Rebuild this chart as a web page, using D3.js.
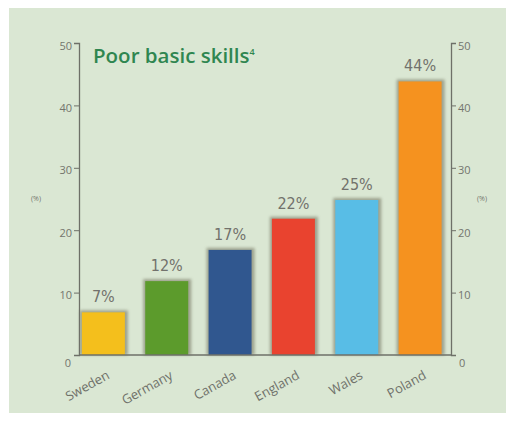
<!DOCTYPE html>
<html>
<head>
<meta charset="utf-8">
<script src="https://cdn.jsdelivr.net/npm/d3@7"></script>
<style>
  body { margin: 0; background: #ffffff; }
  svg { display: block; }
</style>
</head>
<body>
<div id="chart"></div>
<script>
// chart values
const countries = ["Sweden", "Germany", "Canada", "England", "Wales", "Poland"];
const shares = [7, 12, 17, 22, 25, 44];
const barColors = ["#f4bf1c", "#5c9b2c", "#30578f", "#e9432f", "#58bde6", "#f5921f"];
const yTicks = [0, 10, 20, 30, 40, 50];

const width = 506, height = 421;
const margin = {left: 79, right: 55, top: 43, bottom: 66};

const svg = d3.select('#chart')
    .append('svg')
    .attr('width', width)
    .attr('height', height);

// paper background
svg.append('rect')
    .attr('x', 9).attr('y', 8)
    .attr('width', width - 9).attr('height', 405)
    .attr('fill', '#dae7d3');

const x = d3.scaleBand()
    .domain(countries)
    .range([margin.left, 444.5])
    .paddingInner(0.29)
    .paddingOuter(0.03);

const y = d3.scaleLinear()
    .domain([0, 50])
    .range([height - margin.bottom, margin.top]);

const defs = svg.append('defs');
defs.append('filter')
    .attr('id', 'soft')
    .attr('x', '-20%').attr('y', '-20%')
    .attr('width', '140%').attr('height', '140%')
    .append('feGaussianBlur')
    .attr('stdDeviation', 1.6);

// shadow under each bar
svg.selectAll('rect.shadow')
    .data(shares).enter()
    .append('rect')
    .attr('class', 'shadow')
    .attr('x', (d, i) => x(countries[i]) - 1)
    .attr('y', d => y(d) - 1)
    .attr('width', x.bandwidth() + 3)
    .attr('height', d => y(0) - y(d) + 1)
    .attr('fill', '#6b6a55')
    .attr('opacity', 0.55)
    .attr('filter', 'url(#soft)');

svg.selectAll('rect.bar')
    .data(shares).enter()
    .append('rect')
    .attr('class', 'bar')
    .attr('x', (d, i) => x(countries[i]) + 1)
    .attr('y', d => y(d) + 1)
    .attr('width', x.bandwidth() - 2)
    .attr('height', d => y(0) - y(d) - 1)
    .attr('fill', (d, i) => barColors[i]);

// value labels
svg.selectAll('text.val')
    .data(shares).enter()
    .append('text')
    .attr('class', 'val')
    .attr('x', (d, i) => x(countries[i]) + x.bandwidth() / 2)
    .attr('y', d => y(d) - 9)
    .attr('text-anchor', 'middle')
    .style('font-family', '"Liberation Sans Narrow", "DejaVu Sans Condensed", sans-serif')
    .style('font-size', '16px')
    .style('fill', '#72726c')
    .text(d => d + '%');

// axes
const axisColor = '#6e7068';
const leftAxis = svg.append('g')
    .attr('transform', 'translate(' + margin.left + ',0)')
    .call(d3.axisLeft(y).tickValues(yTicks).tickSize(5).tickPadding(2));
const rightAxis = svg.append('g')
    .attr('transform', 'translate(' + (width - margin.right) + ',0)')
    .call(d3.axisRight(y).tickValues(yTicks).tickSize(5).tickPadding(2));

[leftAxis, rightAxis].forEach(function(g) {
    g.select('.domain').attr('stroke', axisColor).attr('stroke-width', 1.3);
    g.selectAll('.tick line').attr('stroke', axisColor).attr('stroke-width', 1);
    g.selectAll('.tick text')
        .attr('dy', '0.55em')
        .style('font-family', '"Open Sans", sans-serif')
        .style('font-size', '11px')
        .style('fill', '#73756d');
    g.selectAll('.tick').filter(d => d === 0).select('line').remove();
});
leftAxis.selectAll('.tick').filter(d => d === 0).select('text').attr('dy', '1.0em').attr('x', -8);
rightAxis.selectAll('.tick').filter(d => d === 0).select('text').attr('dy', '1.0em').attr('x', 8);

// baseline
svg.append('line')
    .attr('x1', margin.left).attr('x2', width - margin.right)
    .attr('y1', y(0)).attr('y2', y(0))
    .attr('stroke', axisColor).attr('stroke-width', 1.5);

// unit labels
[36, 482].forEach(function(px) {
    svg.append('text')
        .attr('x', px).attr('y', y(25) + 2)
        .attr('text-anchor', 'middle')
        .style('font-family', '"Open Sans", sans-serif')
        .style('font-size', '7px')
        .style('fill', '#73756d')
        .text('(%)');
});

// rotated category labels
svg.selectAll('text.cat')
    .data(countries).enter()
    .append('text')
    .attr('class', 'cat')
    .attr('transform', d => 'translate(' + (x(d) + x.bandwidth() / 2 + 7) + ',' + (y(0) + 23) + ') rotate(-29)')
    .attr('text-anchor', 'end')
    .style('font-family', '"Open Sans", sans-serif')
    .style('font-size', '13px')
    .style('fill', '#6f716a')
    .text(d => d);

// title
const title = svg.append('text')
    .attr('x', 93).attr('y', 63)
    .style('font-family', '"Open Sans", sans-serif')
    .style('font-weight', '600')
    .style('font-size', '20.5px')
    .style('fill', '#2f8650');
title.append('tspan').text('Poor basic skills');
title.append('tspan')
    .attr('dy', -8)
    .style('font-size', '9px')
    .text('4');
</script>
</body>
</html>
